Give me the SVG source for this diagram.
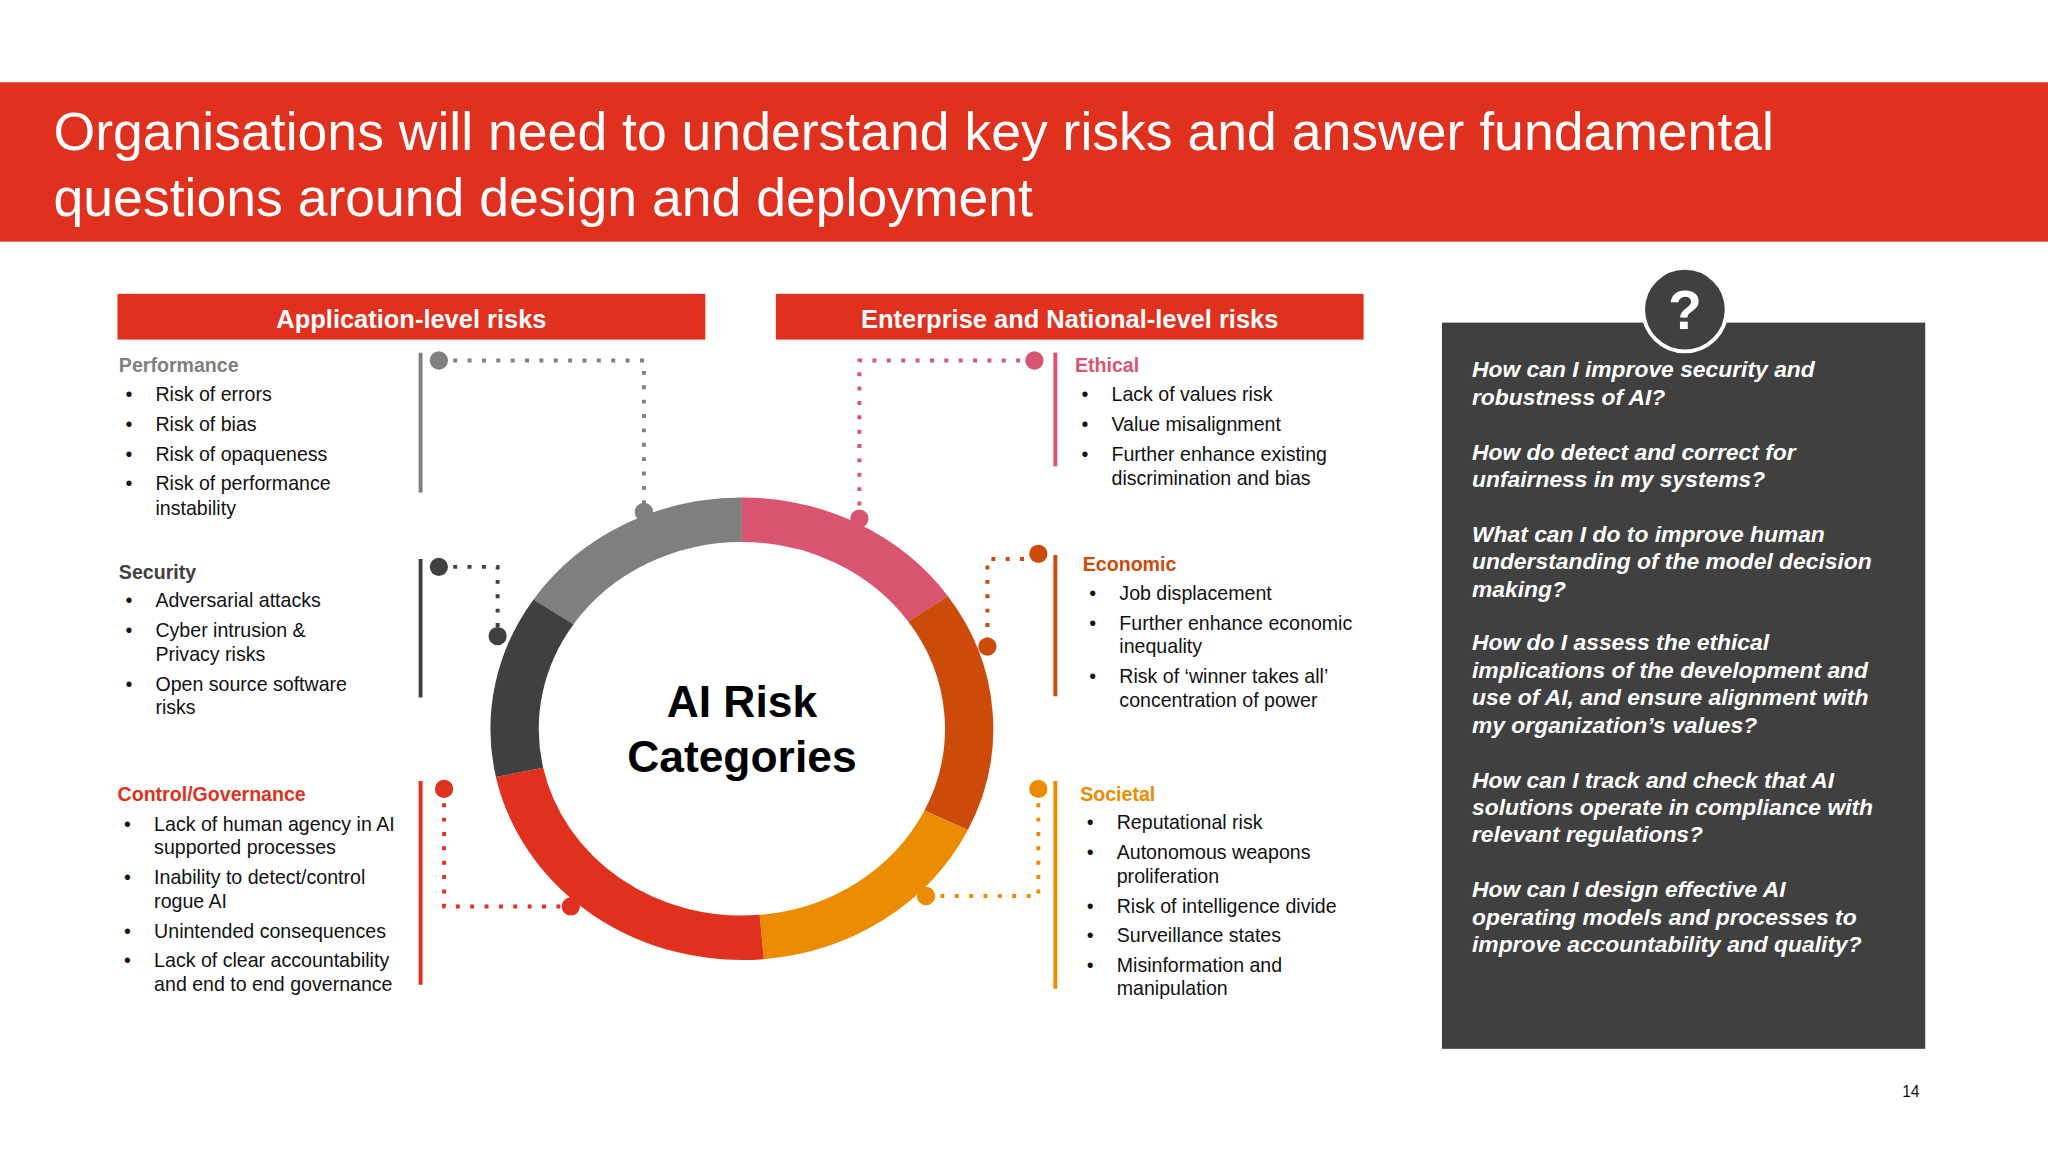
<svg xmlns="http://www.w3.org/2000/svg" width="2048" height="1152" viewBox="0 0 2048 1152">
<style>
text{font-family:"Liberation Sans",Arial,sans-serif}
.t{font-size:15px;fill:#111}
.h{font-size:15px;font-weight:bold}
.q{font-size:17.5px;font-weight:bold;font-style:italic;fill:#fff}
.dot{stroke-width:3;stroke-dasharray:3 8;fill:none}
.bar{stroke-width:3}
.seg{fill:none;stroke-width:37}
</style>
<rect width="2048" height="1152" fill="#fff"/>
<g transform="scale(1.30612)">
<g id="header">
<rect x="0" y="63" width="1568" height="122" fill="#e0301e"/>
<text x="41" y="115" font-size="41" fill="#fff">Organisations will need to understand key risks and answer fundamental</text>
<text x="41" y="165" font-size="41" fill="#fff">questions around design and deployment</text>
</g>
<g id="hdr-app"><rect x="90" y="225" width="450" height="35" fill="#e0301e"/><text x="315" y="251" text-anchor="middle" font-size="19.5" font-weight="bold" fill="#fff">Application-level risks</text></g>
<g id="hdr-ent"><rect x="594" y="225" width="450" height="35" fill="#e0301e"/><text x="819" y="251" text-anchor="middle" font-size="19.5" font-weight="bold" fill="#fff">Enterprise and National-level risks</text></g>

<g id="ring">
<g transform="translate(0,44.6) scale(1,0.92)">
<path class="seg" stroke="#7f7f7f" d="M423.8,460.7 A174,174 0 0 1 568,384"/>
<path class="seg" stroke="#d9546e" d="M568,384 A174,174 0 0 1 710.5,458.1"/>
<path class="seg" stroke="#cc4b0a" d="M710.5,458.1 A174,174 0 0 1 724.4,634.2"/>
<path class="seg" stroke="#eb8c00" d="M724.4,634.2 A174,174 0 0 1 583.2,731.3"/>
<path class="seg" stroke="#e0301e" d="M583.2,731.3 A174,174 0 0 1 397.8,594.2"/>
<path class="seg" stroke="#404040" d="M397.8,594.2 A174,174 0 0 1 423.8,460.7"/>
</g>
<text x="568" y="549" text-anchor="middle" font-size="34" font-weight="bold" fill="#000">AI Risk</text>
<text x="568" y="591" text-anchor="middle" font-size="34" font-weight="bold" fill="#000">Categories</text>
</g>

<g id="connectors">
<line class="bar" x1="322" y1="270" x2="322" y2="377" stroke="#7f7f7f"/>
<path class="dot" stroke="#7f7f7f" d="M336,276 H493 V392"/>
<circle cx="336" cy="276" r="7" fill="#7f7f7f"/><circle cx="493" cy="392" r="7" fill="#7f7f7f"/>
<line class="bar" x1="322" y1="428" x2="322" y2="534" stroke="#404040"/>
<path class="dot" stroke="#404040" d="M336,434 H381 V487"/>
<circle cx="336" cy="434" r="7" fill="#404040"/><circle cx="381" cy="487" r="7" fill="#404040"/>
<line class="bar" x1="322" y1="598" x2="322" y2="754" stroke="#e0301e"/>
<path class="dot" stroke="#e0301e" d="M340,604 V694 H437"/>
<circle cx="340" cy="604" r="7" fill="#e0301e"/><circle cx="437" cy="694" r="7" fill="#e0301e"/>
<line class="bar" x1="808" y1="270" x2="808" y2="357" stroke="#d9546e"/>
<path class="dot" stroke="#d9546e" d="M792,276 H658 V397"/>
<circle cx="792" cy="276" r="7" fill="#d9546e"/><circle cx="658" cy="397" r="7" fill="#d9546e"/>
<line class="bar" x1="808" y1="425" x2="808" y2="533" stroke="#cc4b0a"/>
<path class="dot" stroke="#cc4b0a" d="M795,428 H756 V495"/>
<circle cx="795" cy="424" r="7" fill="#cc4b0a"/><circle cx="756" cy="495" r="7" fill="#cc4b0a"/>
<line class="bar" x1="808" y1="598" x2="808" y2="757" stroke="#eb8c00"/>
<path class="dot" stroke="#eb8c00" d="M795,604 V686 H709"/>
<circle cx="795" cy="604" r="7" fill="#eb8c00"/><circle cx="709" cy="686" r="7" fill="#eb8c00"/>
</g>

<g id="performance">
<text x="91" y="285" class="h" fill="#7f7f7f">Performance</text>
<g class="t"><text x="96" y="307">•</text><text x="119" y="307">Risk of errors</text>
<text x="96" y="330">•</text><text x="119" y="330">Risk of bias</text>
<text x="96" y="353">•</text><text x="119" y="353">Risk of opaqueness</text>
<text x="96" y="375">•</text><text x="119" y="375">Risk of performance</text><text x="119" y="394">instability</text></g>
</g>
<g id="security">
<text x="91" y="443" class="h" fill="#404040">Security</text>
<g class="t"><text x="96" y="465">•</text><text x="119" y="465">Adversarial attacks</text>
<text x="96" y="488">•</text><text x="119" y="488">Cyber intrusion &amp;</text><text x="119" y="506">Privacy risks</text>
<text x="96" y="529">•</text><text x="119" y="529">Open source software</text><text x="119" y="547">risks</text></g>
</g>
<g id="control">
<text x="90" y="613" class="h" fill="#e0301e">Control/Governance</text>
<g class="t"><text x="95" y="636">•</text><text x="118" y="636">Lack of human agency in AI</text><text x="118" y="654">supported processes</text>
<text x="95" y="677">•</text><text x="118" y="677">Inability to detect/control</text><text x="118" y="695">rogue AI</text>
<text x="95" y="718">•</text><text x="118" y="718">Unintended consequences</text>
<text x="95" y="740">•</text><text x="118" y="740">Lack of clear accountability</text><text x="118" y="759">and end to end governance</text></g>
</g>
<g id="ethical">
<text x="823" y="285" class="h" fill="#d9546e">Ethical</text>
<g class="t"><text x="828" y="307">•</text><text x="851" y="307">Lack of values risk</text>
<text x="828" y="330">•</text><text x="851" y="330">Value misalignment</text>
<text x="828" y="353">•</text><text x="851" y="353">Further enhance existing</text><text x="851" y="371">discrimination and bias</text></g>
</g>
<g id="economic">
<text x="829" y="437" class="h" fill="#cc4b0a">Economic</text>
<g class="t"><text x="834" y="459">•</text><text x="857" y="459">Job displacement</text>
<text x="834" y="482">•</text><text x="857" y="482">Further enhance economic</text><text x="857" y="500">inequality</text>
<text x="834" y="523">•</text><text x="857" y="523">Risk of ‘winner takes all’</text><text x="857" y="541">concentration of power</text></g>
</g>
<g id="societal">
<text x="827" y="613" class="h" fill="#eb8c00">Societal</text>
<g class="t"><text x="832" y="635">•</text><text x="855" y="635">Reputational risk</text>
<text x="832" y="658">•</text><text x="855" y="658">Autonomous weapons</text><text x="855" y="676">proliferation</text>
<text x="832" y="699">•</text><text x="855" y="699">Risk of intelligence divide</text>
<text x="832" y="721">•</text><text x="855" y="721">Surveillance states</text>
<text x="832" y="744">•</text><text x="855" y="744">Misinformation and</text><text x="855" y="762">manipulation</text></g>
</g>

<g id="questions">
<rect x="1104" y="247" width="370" height="556" fill="#404040"/>
<circle cx="1290" cy="237" r="32" fill="#404040" stroke="#fff" stroke-width="3"/>
<text x="1290" y="252" text-anchor="middle" font-size="42" font-weight="bold" fill="#fff">?</text>
<g class="q">
<text x="1127" y="289">How can I improve security and</text><text x="1127" y="310">robustness of AI?</text>
<text x="1127" y="352">How do detect and correct for</text><text x="1127" y="373">unfairness in my systems?</text>
<text x="1127" y="415">What can I do to improve human</text><text x="1127" y="436">understanding of the model decision</text><text x="1127" y="457">making?</text>
<text x="1127" y="498">How do I assess the ethical</text><text x="1127" y="519">implications of the development and</text><text x="1127" y="540">use of AI, and ensure alignment with</text><text x="1127" y="561">my organization’s values?</text>
<text x="1127" y="603">How can I track and check that AI</text><text x="1127" y="624">solutions operate in compliance with</text><text x="1127" y="645">relevant regulations?</text>
<text x="1127" y="687">How can I design effective AI</text><text x="1127" y="708">operating models and processes to</text><text x="1127" y="729">improve accountability and quality?</text>
</g>
</g>
<text x="1463" y="840" text-anchor="middle" font-size="12" fill="#111">14</text>
</g>
</svg>
